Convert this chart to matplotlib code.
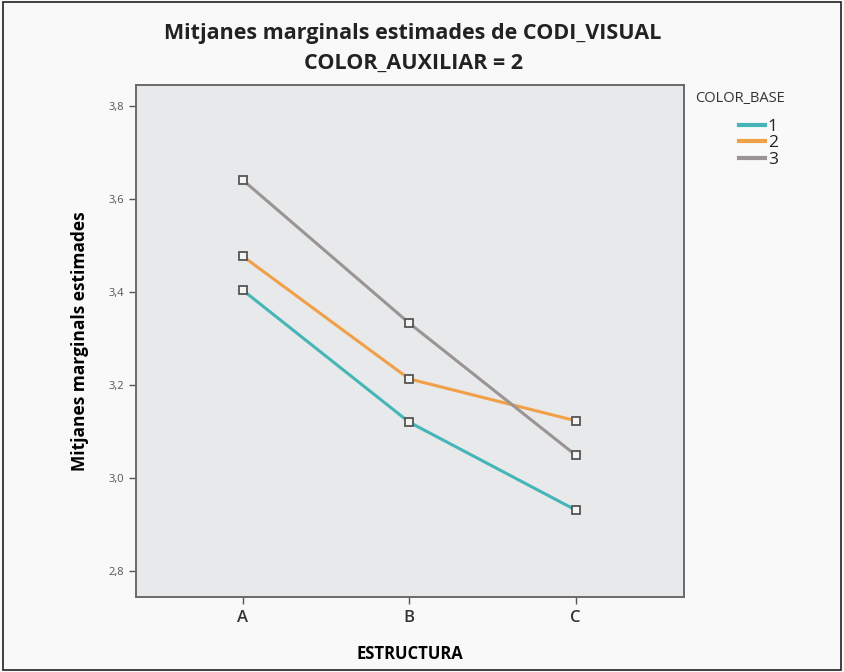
import matplotlib
matplotlib.use("Agg")
import matplotlib.pyplot as plt
from matplotlib.ticker import FuncFormatter
from matplotlib.patches import Rectangle

# data
estructura = ["A", "B", "C"]
base_1 = [3.404, 3.120, 2.931]
base_2 = [3.477, 3.213, 3.123]
base_3 = [3.641, 3.333, 3.049]
series_labels = ["1", "2", "3"]
series_colors = ["#45b5b8", "#f0a048", "#9a9494"]
y_ticks = [2.8, 3.0, 3.2, 3.4, 3.6, 3.8]

plt.rcParams['font.family'] = ['Open Sans', 'DejaVu Sans']

fig = plt.figure(figsize=(8.44, 6.72), dpi=100)
fig.patch.set_facecolor("#f9f9f9")
# outer frame of the picture
fig.add_artist(Rectangle((0.003, 0.003), 0.994, 0.994, transform=fig.transFigure,
                         fill=False, edgecolor="#222222", linewidth=1.2))

ax = fig.add_axes([136 / 844, 1 - 597 / 672, (684 - 136) / 844, (597 - 85) / 672])
ax.set_facecolor("#e8e9ea")

x = list(range(len(estructura)))
for vals, lab, col in zip([base_1, base_2, base_3], series_labels, series_colors):
    ax.plot(x, vals, color=col, linewidth=2.2, label=lab, zorder=2)
    ax.plot(x, vals, linestyle="none", marker="s", markersize=6,
            markerfacecolor="#f4f4f4", markeredgecolor="#555555",
            markeredgewidth=1.3, zorder=3)

ax.set_xlim(-0.64, 2.65)
ax.set_ylim(2.744, 3.845)
ax.set_xticks(x)
ax.set_xticklabels(estructura, fontsize=12, fontweight="semibold", color="#333333")
ax.set_yticks(y_ticks)
ax.yaxis.set_major_formatter(FuncFormatter(lambda v, p: f"{v:.1f}".replace(".", ",")))
for t in ax.get_yticklabels():
    t.set_fontsize(8)
    t.set_color("#555555")
ax.tick_params(axis="both", direction="out", length=5, width=1, color="#555555")
ax.tick_params(axis="x", pad=4)
for s in ax.spines.values():
    s.set_color("#6a6a6a")
    s.set_linewidth(1.4)

ax.set_xlabel("ESTRUCTURA", fontsize=12, fontweight="bold", labelpad=14)
ax.set_ylabel("Mitjanes marginals estimades", fontsize=12.5, fontweight="bold", labelpad=14)

fig.text(413 / 844, 1 - 33 / 672, "Mitjanes marginals estimades de CODI_VISUAL",
         ha="center", va="center", fontsize=15.5, fontweight="bold", color="#222222")
fig.text(413 / 844, 1 - 63 / 672, "COLOR_AUXILIAR = 2",
         ha="center", va="center", fontsize=15.5, fontweight="bold", color="#222222")

fig.text(695 / 844, 1 - 98 / 672, "COLOR_BASE", ha="left", va="center",
         fontsize=10.5, color="#333333")
leg = fig.legend(*ax.get_legend_handles_labels(),
                 loc="upper left", bbox_to_anchor=(727 / 844, 1 - 107 / 672),
                 frameon=False, fontsize=12.5,
                 handlelength=1.5, handletextpad=0.15, labelspacing=0.0,
                 borderpad=0.2)
for h in leg.legend_handles:
    h.set_linewidth(3)
for t in leg.get_texts():
    t.set_color("#222222")

fig.savefig("out.png", dpi=100, facecolor=fig.get_facecolor())
